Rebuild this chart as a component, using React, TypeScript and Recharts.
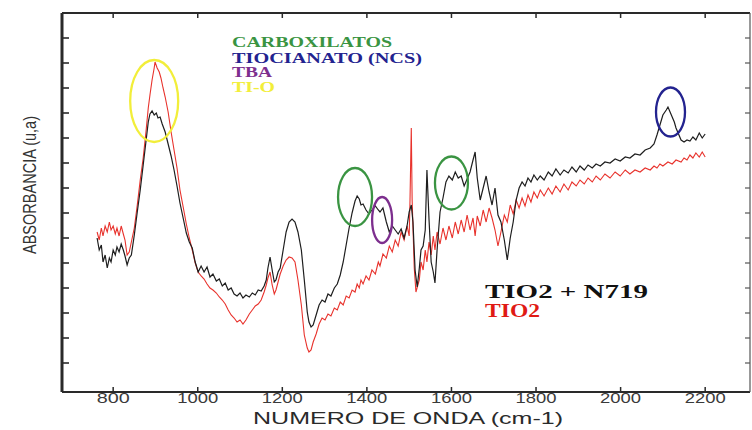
import { LineChart, Line, XAxis, YAxis, ReferenceDot } from "recharts";

// axis ticks (no labels on the absorbance axis, arbitrary units)
const xTicks = [800, 1000, 1200, 1400, 1600, 1800, 2000, 2200];
const yTicks = [0.29, 0.54, 0.79, 1.04, 1.29, 1.54, 1.79, 2.04, 2.29, 2.54, 2.79, 3.04, 3.29, 3.54];

// TiO2 + N719 (black)
const wnBlack = [
  762, 767, 772, 776, 781, 786, 791, 795, 800, 805,
  809, 814, 819, 824, 828, 833, 838, 843, 850, 857,
  864, 871, 878, 883, 887, 892, 897, 902, 906, 911,
  916, 923, 930, 937, 944, 951, 958, 966, 973, 980,
  987, 994, 1001, 1008, 1015, 1022, 1029, 1036, 1044, 1051,
  1058, 1065, 1072, 1079, 1086, 1093, 1100, 1107, 1114, 1122,
  1129, 1136, 1143, 1150, 1157, 1162, 1166, 1171, 1176, 1181,
  1185, 1190, 1195, 1202, 1209, 1216, 1223, 1230, 1237, 1245,
  1252, 1259, 1263, 1268, 1273, 1280, 1287, 1294, 1301, 1308,
  1315, 1323, 1330, 1337, 1344, 1351, 1358, 1365, 1372, 1377,
  1382, 1386, 1391, 1398, 1405, 1412, 1420, 1427, 1431, 1438,
  1446, 1453, 1460, 1467, 1474, 1481, 1488, 1495, 1500, 1505,
  1509, 1514, 1519, 1524, 1528, 1533, 1538, 1542, 1547, 1552,
  1557, 1561, 1566, 1573, 1580, 1587, 1594, 1602, 1609, 1616,
  1623, 1630, 1637, 1644, 1651, 1656, 1661, 1668, 1675, 1682,
  1689, 1696, 1703, 1710, 1717, 1725, 1732, 1739, 1746, 1753,
  1760, 1767, 1774, 1781, 1788, 1795, 1803, 1810, 1819, 1829,
  1838, 1847, 1857, 1866, 1876, 1885, 1895, 1904, 1914, 1923,
  1933, 1942, 1952, 1963, 1975, 1987, 1999, 2011, 2022, 2034,
  2046, 2058, 2070, 2079, 2086, 2093, 2100, 2108, 2112, 2117,
  2122, 2127, 2131, 2136, 2143, 2150, 2157, 2164, 2171, 2178,
  2186, 2193, 2200,
];
const absBlack = [
  1.54, 1.42, 1.47, 1.3, 1.37, 1.24, 1.34, 1.3, 1.42, 1.37,
  1.45, 1.4, 1.48, 1.42, 1.36, 1.27, 1.34, 1.37, 1.57, 1.8,
  2.02, 2.27, 2.52, 2.7, 2.78, 2.81, 2.77, 2.79, 2.74, 2.75,
  2.68, 2.6, 2.48, 2.36, 2.22, 2.06, 1.89, 1.73, 1.59, 1.5,
  1.44, 1.3, 1.2, 1.26, 1.2, 1.25, 1.15, 1.18, 1.11, 1.13,
  1.06, 1.09, 1.02, 1.04, 0.98, 0.96, 0.99, 0.94, 0.97, 0.95,
  0.99, 0.97, 1.02, 1.01, 1.06, 1.12, 1.24, 1.35, 1.22, 1.1,
  1.12, 1.2, 1.24, 1.42, 1.6, 1.7, 1.73, 1.7, 1.6, 1.42,
  1.12, 0.8, 0.7, 0.65, 0.67, 0.77, 0.87, 0.92, 0.9, 0.98,
  0.96, 1.04, 1.08, 1.17, 1.3, 1.47, 1.64, 1.79, 1.91, 1.96,
  1.93, 1.87, 1.88, 1.82, 1.78, 1.82, 1.86, 1.82, 1.8, 1.84,
  1.7, 1.6, 1.66, 1.62, 1.58, 1.63, 1.54, 1.66, 1.8, 1.87,
  1.7, 1.22, 1.05, 1.24, 1.42, 1.46, 1.62, 2.22, 1.72, 1.3,
  1.2, 1.09, 1.42, 1.8, 1.94, 2.1, 2.16, 2.12, 2.2, 2.14,
  2.16, 2.06, 2.13, 2.2, 2.32, 2.4, 2.14, 1.92, 2.04, 2.16,
  2.0, 1.87, 2.04, 1.77, 1.7, 1.52, 1.32, 1.54, 1.7, 1.92,
  2.04, 2.1, 2.06, 2.14, 2.1, 2.17, 2.12, 2.16, 2.12, 2.2,
  2.16, 2.23, 2.17, 2.22, 2.19, 2.25, 2.2, 2.26, 2.22, 2.27,
  2.24, 2.28, 2.26, 2.3, 2.29, 2.33, 2.31, 2.35, 2.34, 2.38,
  2.37, 2.42, 2.44, 2.48, 2.57, 2.67, 2.77, 2.82, 2.85, 2.8,
  2.75, 2.7, 2.64, 2.59, 2.52, 2.5, 2.52, 2.51, 2.55, 2.52,
  2.59, 2.54, 2.58,
];

// TiO2 (red)
const wnRed = [
  762, 767, 772, 776, 781, 786, 791, 795, 800, 805,
  809, 814, 819, 824, 828, 833, 838, 843, 850, 857,
  864, 871, 878, 883, 887, 892, 897, 899, 904, 909,
  913, 918, 923, 930, 937, 944, 951, 958, 966, 973,
  980, 987, 994, 1001, 1008, 1015, 1022, 1029, 1036, 1044,
  1051, 1058, 1065, 1072, 1079, 1086, 1093, 1100, 1107, 1114,
  1122, 1129, 1136, 1143, 1150, 1157, 1162, 1166, 1171, 1176,
  1181, 1185, 1190, 1195, 1202, 1209, 1216, 1223, 1230, 1237,
  1245, 1252, 1259, 1263, 1268, 1273, 1280, 1287, 1294, 1301,
  1308, 1315, 1323, 1330, 1337, 1344, 1351, 1358, 1365, 1372,
  1377, 1382, 1386, 1391, 1398, 1405, 1412, 1420, 1427, 1431,
  1438, 1446, 1453, 1460, 1467, 1474, 1481, 1488, 1495, 1500,
  1502, 1505, 1507, 1512, 1516, 1524, 1528, 1533, 1538, 1542,
  1547, 1552, 1557, 1561, 1566, 1573, 1580, 1587, 1594, 1602,
  1609, 1616, 1623, 1630, 1637, 1644, 1651, 1656, 1661, 1668,
  1675, 1682, 1689, 1696, 1703, 1710, 1717, 1725, 1732, 1739,
  1746, 1753, 1760, 1767, 1774, 1781, 1788, 1795, 1803, 1810,
  1819, 1829, 1838, 1847, 1857, 1866, 1876, 1885, 1895, 1904,
  1914, 1923, 1933, 1942, 1952, 1963, 1975, 1987, 1999, 2011,
  2022, 2034, 2046, 2058, 2070, 2079, 2086, 2093, 2100, 2112,
  2122, 2131, 2143, 2150, 2157, 2164, 2171, 2178, 2186, 2193,
  2200,
];
const absRed = [
  1.6, 1.52, 1.64, 1.56, 1.66, 1.6, 1.7, 1.62, 1.66, 1.58,
  1.64, 1.56, 1.66, 1.58, 1.52, 1.37, 1.4, 1.5, 1.64, 1.87,
  2.12, 2.34, 2.62, 2.84, 2.97, 3.12, 3.24, 3.3, 3.24, 3.2,
  3.14, 3.04, 2.95, 2.8, 2.6, 2.42, 2.24, 2.02, 1.84, 1.68,
  1.54, 1.42, 1.29, 1.2, 1.16, 1.13, 1.08, 1.04, 1.02, 0.99,
  0.95, 0.92, 0.88, 0.82, 0.77, 0.74, 0.7, 0.72, 0.68, 0.72,
  0.78, 0.82, 0.86, 0.88, 0.92, 1.0, 1.07, 1.14, 1.2, 1.07,
  0.98, 1.02, 1.1, 1.18, 1.26, 1.32, 1.35, 1.34, 1.3, 1.12,
  0.87, 0.57, 0.44, 0.4, 0.42, 0.5, 0.58, 0.68, 0.74, 0.72,
  0.78, 0.76, 0.84, 0.82, 0.9, 0.87, 0.96, 0.94, 1.02, 1.0,
  1.08, 1.04, 1.12, 1.08, 1.16, 1.12, 1.22, 1.18, 1.3, 1.26,
  1.38, 1.34, 1.46, 1.4, 1.52, 1.46, 1.6, 1.52, 1.66, 1.56,
  1.92, 2.64, 1.92, 1.24, 1.0, 1.12, 1.3, 1.22, 1.42, 1.3,
  1.5, 1.37, 1.56, 1.42, 1.6, 1.48, 1.64, 1.52, 1.66, 1.54,
  1.7, 1.58, 1.72, 1.6, 1.77, 1.62, 1.74, 1.56, 1.76, 1.66,
  1.82, 1.7, 1.84, 1.74, 1.62, 1.46, 1.6, 1.77, 1.7, 1.87,
  1.78, 1.92, 1.84, 1.94, 1.86, 1.97, 1.9, 2.0, 1.94, 2.02,
  1.96, 2.04, 1.98, 2.06, 2.0, 2.08, 2.02, 2.1, 2.06, 2.12,
  2.08, 2.14, 2.1, 2.16, 2.12, 2.18, 2.14, 2.2, 2.16, 2.22,
  2.18, 2.22, 2.2, 2.24, 2.22, 2.26, 2.24, 2.28, 2.26, 2.3,
  2.28, 2.32, 2.3, 2.34, 2.32, 2.37, 2.34, 2.39, 2.35, 2.4,
  2.35,
];

// circled bands
const bandWn = [897, 1372, 1436, 1600, 2118];
const bandAbs = [2.91, 1.95, 1.72, 2.09, 2.8];
const bandGroup = ["Ti-O", "carboxilatos", "TBA", "carboxilatos", "NCS"];

const groupColor: Record<string, string> = {
  "Ti-O": "#f2ee3a",
  carboxilatos: "#3a9442",
  TBA: "#7d2f8e",
  NCS: "#23238f",
};
const ringSize = [
  [24, 41],
  [17, 29],
  [10, 23],
  [16.5, 26.5],
  [14.5, 24.5],
];

const blackRows = wnBlack.map((wn, i) => ({ wn, abs: absBlack[i] }));
const redRows = wnRed.map((wn, i) => ({ wn, abs: absRed[i] }));

const frame = "#2a2a2a";

function XTick(props: any) {
  const { x, y, payload } = props;
  const s = String(payload.value);
  return (
    <text
      x={x}
      y={y}
      dy={9}
      textAnchor="middle"
      fontSize={15}
      fill="#3a3a3a"
      fontFamily="'Liberation Sans', Arial, sans-serif"
      textLength={s.length === 3 ? 33 : 41}
      lengthAdjust="spacingAndGlyphs"
    >
      {s}
    </text>
  );
}

const serifBold = "'Liberation Serif', 'Times New Roman', serif";

export default function App() {
  return (
    <div
      style={{
        position: "absolute",
        left: 0,
        top: 0,
        width: 752,
        height: 430,
        background: "#fff",
      }}
    >
      <LineChart
        width={752}
        height={430}
        margin={{ top: 12, right: 1, bottom: 0, left: 61 }}
      >
        <XAxis
          dataKey="wn"
          type="number"
          domain={[679, 2306]}
          allowDataOverflow
          ticks={xTicks}
          interval={0}
          height={38}
          tickSize={-5}
          tickMargin={7}
          tick={<XTick />}
          axisLine={{ stroke: frame, strokeWidth: 2.2 }}
          tickLine={{ stroke: frame, strokeWidth: 1.5 }}
        />
        <XAxis
          xAxisId="top"
          orientation="top"
          dataKey="wn"
          type="number"
          domain={[679, 2306]}
          allowDataOverflow
          ticks={xTicks}
          interval={0}
          height={1}
          tickSize={-5}
          tick={() => <g />}
          axisLine={{ stroke: frame, strokeWidth: 2 }}
          tickLine={{ stroke: frame, strokeWidth: 1.5 }}
        />
        <YAxis
          type="number"
          domain={[0, 3.79]}
          allowDataOverflow
          ticks={yTicks}
          interval={0}
          width={1}
          tickSize={-7}
          tick={() => <g />}
          axisLine={{ stroke: frame, strokeWidth: 3 }}
          tickLine={{ stroke: frame, strokeWidth: 1.6 }}
        />
        <YAxis
          yAxisId="r"
          orientation="right"
          type="number"
          domain={[0, 3.79]}
          allowDataOverflow
          ticks={yTicks}
          interval={0}
          width={1}
          tickSize={-5}
          tick={() => <g />}
          axisLine={{ stroke: "#555", strokeWidth: 1.2 }}
          tickLine={{ stroke: "#555", strokeWidth: 1.2 }}
        />
        <Line
          data={redRows}
          dataKey="abs"
          type="linear"
          stroke="#e8322c"
          strokeWidth={1.1}
          dot={false}
          isAnimationActive={false}
        />
        <Line
          data={blackRows}
          dataKey="abs"
          type="linear"
          stroke="#1e1e1e"
          strokeWidth={1.2}
          dot={false}
          isAnimationActive={false}
        />
        {/* hidden copy so the top and right frame axes get a scale */}
        <Line
          data={blackRows}
          dataKey="abs"
          xAxisId="top"
          yAxisId="r"
          stroke="none"
          dot={false}
          legendType="none"
          isAnimationActive={false}
        />
        {bandWn.map((wn, i) => (
          <ReferenceDot
            key={i}
            x={wn}
            y={bandAbs[i]}
            r={0}
            shape={(p: any) => (
              <ellipse
                cx={p.cx}
                cy={p.cy}
                rx={ringSize[i][0]}
                ry={ringSize[i][1]}
                fill="none"
                stroke={groupColor[bandGroup[i]]}
                strokeWidth={2.3}
              />
            )}
          />
        ))}
      </LineChart>
      <svg
        width={752}
        height={430}
        style={{ position: "absolute", left: 0, top: 0, pointerEvents: "none" }}
      >
        <text
          transform="translate(36,185) rotate(-90)"
          textAnchor="middle"
          fontSize={19}
          fill="#333"
          fontFamily="'Liberation Sans', Arial, sans-serif"
          textLength={138}
          lengthAdjust="spacingAndGlyphs"
        >
          ABSORBANCIA (u,a)
        </text>
        <text
          x={408}
          y={424}
          textAnchor="middle"
          fontSize={17}
          fill="#2a2a2a"
          fontFamily="'Liberation Sans', Arial, sans-serif"
          textLength={310}
          lengthAdjust="spacingAndGlyphs"
        >
          NUMERO DE ONDA (cm-1)
        </text>
        <g fontFamily={serifBold} fontWeight={700} fontSize={14}>
          <text x={232} y={47} fill="#3a9442" textLength={160} lengthAdjust="spacingAndGlyphs">
            CARBOXILATOS
          </text>
          <text x={232} y={63} fill="#23238f" textLength={190} lengthAdjust="spacingAndGlyphs">
            TIOCIANATO (NCS)
          </text>
          <text x={232} y={77} fill="#7d2f8e" textLength={40} lengthAdjust="spacingAndGlyphs">
            TBA
          </text>
          <text x={232} y={92} fill="#f2ee3a" textLength={43} lengthAdjust="spacingAndGlyphs">
            TI-O
          </text>
        </g>
        <g fontFamily={serifBold} fontWeight={700} fontSize={19}>
          <text x={485} y={298} fill="#111" textLength={163} lengthAdjust="spacingAndGlyphs">
            TIO2 + N719
          </text>
          <text x={485} y={317} fill="#e01a14" textLength={55} lengthAdjust="spacingAndGlyphs">
            TIO2
          </text>
        </g>
      </svg>
    </div>
  );
}
